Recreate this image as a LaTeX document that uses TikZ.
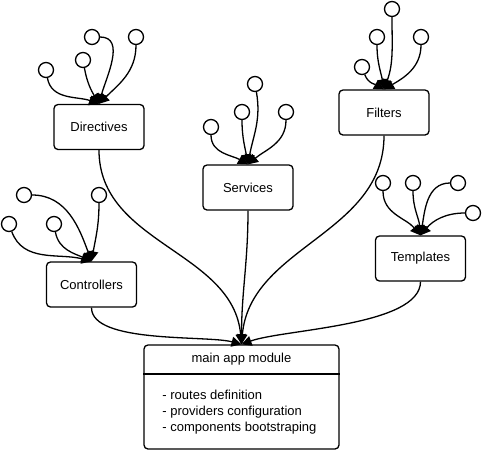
\documentclass[tikz,border=0pt]{standalone}
\usepackage{fontspec}
\setmainfont{Liberation Sans}
\usetikzlibrary{arrows.meta}
\tikzset{
>={Triangle[length=10pt,width=10pt]}, % filled arrow heads
module/.style={draw, rounded corners=4pt, minimum width=90pt, minimum height=45pt, font=\fontsize{13}{16}\selectfont}, % the boxes
leaf/.style={draw, circle, minimum size=15pt, inner sep=0pt}, % the small circles
}

\begin{document}
\begin{tikzpicture}[x=1pt, y=-1pt, line width=1.3pt]
\useasboundingbox (0,0) rectangle (482,451);
\node[module] (dir) at (99,127) {Directives};
\node[module] (ctl) at (91.5,284.5) {Controllers};
\node[module] (srv) at (248,187.5) {Services};
\node[module] (flt) at (384,112.5) {Filters};
\node[module] (tpl) at (420.5,258.5) {Templates};

% main app module
\node[module, minimum width=195pt, minimum height=104pt] (app) at (241.5,397) {};
\node[font=\fontsize{13}{16}\selectfont] (apptitle) at (241.5,359) {main app module};
\coordinate (appsplit) at (0,374);
\draw (app.west |- appsplit) -- (app.east |- appsplit);
\node[anchor=west, align=left, font=\fontsize{13}{16}\selectfont] (applist) at (158.5,412) {- routes definition\\- providers configuration\\- components bootstraping};

% leaves
\node[leaf] (d1) at (46,70) {};
\node[leaf] (d2) at (83,60) {};
\node[leaf] (d3) at (92,37) {};
\node[leaf] (d4) at (136,37) {};
\node[leaf] (c1) at (24,195) {};
\node[leaf] (c2) at (99,195) {};
\node[leaf] (c3) at (9,224) {};
\node[leaf] (c4) at (54,224) {};
\node[leaf] (s1) at (211,127) {};
\node[leaf] (s2) at (242,112) {};
\node[leaf] (s3) at (255,84) {};
\node[leaf] (s4) at (286,112) {};
\node[leaf] (f1) at (362,67) {};
\node[leaf] (f2) at (377,37) {};
\node[leaf] (f3) at (392,9) {};
\node[leaf] (f4) at (421,37) {};
\node[leaf] (t1) at (383,183) {};
\node[leaf] (t2) at (413,183) {};
\node[leaf] (t3) at (458,183) {};
\node[leaf] (t4) at (473,213) {};

% edges
\path[->] (d1) edge [out=-80, in=160] (dir.north); % d1 to Directives
\path[->] (d2) edge [out=-80, in=120] (dir.north); % d2 to Directives
\path[->] (d3) edge [out=0, in=75] (dir.north); % d3 to Directives
\path[->] (d4) edge [out=-90, in=45] (dir.north); % d4 to Directives
\path[->] (c1) edge [out=0, in=110] (ctl.north); % c1 to Controllers
\path[->] (c2) edge [out=-90, in=80] (ctl.north); % c2 to Controllers
\path[->] (c3) edge [out=-70, in=165] (ctl.north); % c3 to Controllers
\path[->] (c4) edge [out=-80, in=155] (ctl.north); % c4 to Controllers
\path[->] (s1) edge [out=-90, in=150] (srv.north); % s1 to Services
\path[->] (s2) edge [out=-90, in=100] (srv.north); % s2 to Services
\path[->] (s3) edge [out=-80, in=80] (srv.north); % s3 to Services
\path[->] (s4) edge [out=-90, in=40] (srv.north); % s4 to Services
\path[->] (f1) edge [out=-70, in=150] (flt.north); % f1 to Filters
\path[->] (f2) edge [out=-90, in=100] (flt.north); % f2 to Filters
\path[->] (f3) edge [out=-90, in=70] (flt.north); % f3 to Filters
\path[->] (f4) edge [out=-90, in=30] (flt.north); % f4 to Filters
\path[->] (t1) edge [out=-90, in=130] (tpl.north); % t1 to Templates
\path[->] (t2) edge [out=-90, in=95] (tpl.north); % t2 to Templates
\path[->] (t3) edge [out=180, in=80] (tpl.north); % t3 to Templates
\path[->] (t4) edge [out=180, in=50] (tpl.north); % t4 to Templates

% modules to main app module
\path[->] (dir.south) edge [out=-90, in=95] (app.north); % Directives to app
\path[->] (ctl.south) edge [out=-90, in=165, looseness=0.6] (app.north); % Controllers to app
\path[->] (srv.south) edge [out=-90, in=90] (app.north); % Services to app
\path[->] (flt.south) edge [out=-90, in=85] (app.north); % Filters to app
\path[->] (tpl.south) edge [out=-90, in=20, looseness=0.6] (app.north); % Templates to app
\end{tikzpicture}
\end{document}
